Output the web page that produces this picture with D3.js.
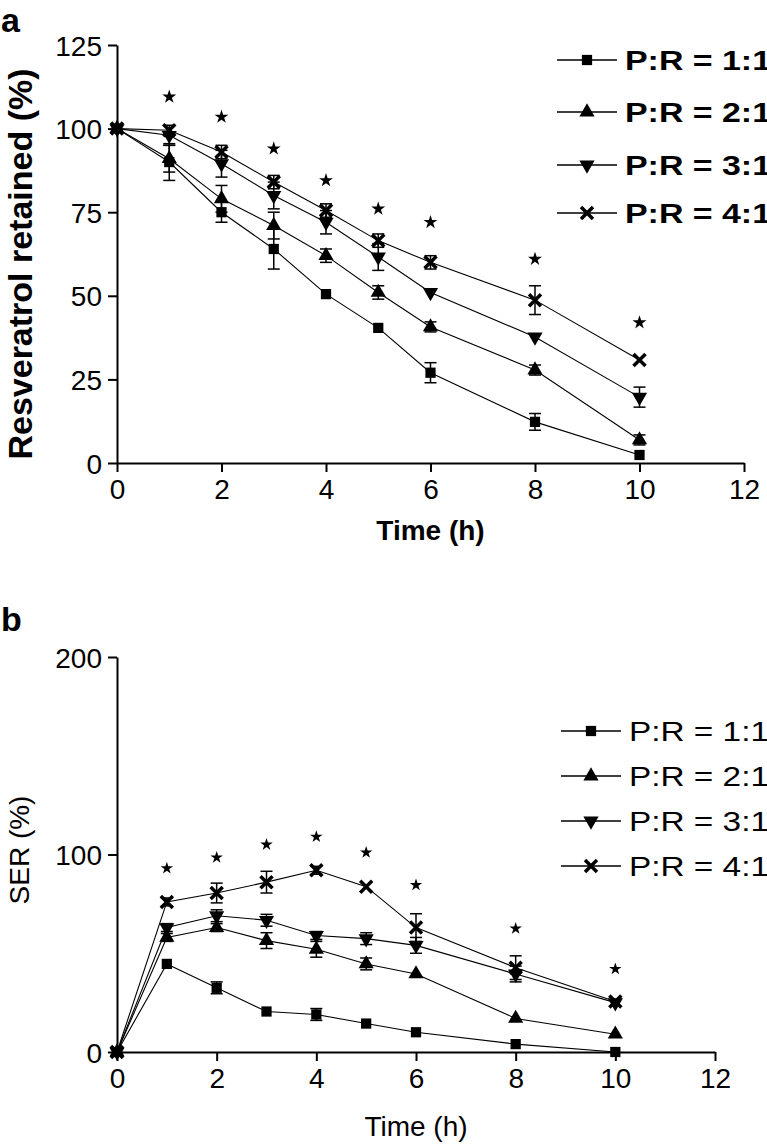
<!DOCTYPE html>
<html>
<head>
<meta charset="utf-8">
<script src="https://cdn.jsdelivr.net/npm/d3@7"></script>
<style>
  html, body { margin: 0; padding: 0; background: #fff; }
  svg { display: block; font-family: "Liberation Sans", Arial, sans-serif; }
</style>
</head>
<body>
<div id="chart"></div>
<script>
// sampling times (h)
const times = [0, 1, 2, 3, 4, 5, 6, 8, 10];
const seriesNames = ['P:R = 1:1', 'P:R = 2:1', 'P:R = 3:1', 'P:R = 4:1'];

// panel a: resveratrol retained (%)
const retained11 = [100, 90, 75, 64, 50.5, 40.4, 27, 12.3, 2.4];
const retained21 = [100, 91, 79, 71, 62, 51, 40.7, 27.8, 6.9];
const retained31 = [100, 98, 89.5, 80, 72, 61.6, 51, 37.7, 19.7];
const retained41 = [100, 99.5, 93, 84, 75.5, 66.5, 60, 48.7, 30.8];
const retainedErr11 = [1, 5.5, 3, 6, 1, 1, 3, 2.5, 1];
const retainedErr21 = [1, 4, 4, 4, 2, 2, 1.5, 1.5, 1.5];
const retainedErr31 = [1, 3, 4, 4, 3.5, 4, 1, 1, 3];
const retainedErr41 = [1, 1, 2, 2, 2, 2, 2, 4.3, 1];
const retainedStarTimes = [1, 2, 3, 4, 5, 6, 8, 10];
const retainedStars = [109.5, 103.5, 94, 84.5, 76, 72, 61, 42];
const retainedTicks = [0, 25, 50, 75, 100, 125];

// panel b: SER (%)
const ser11 = [0, 44.6, 32.5, 20.5, 19, 14.4, 10, 4, 0];
const ser21 = [0, 58, 63, 56.4, 52, 44.6, 39.5, 17, 9];
const ser31 = [0, 63, 69, 66.7, 59, 57.4, 54, 39.5, 25];
const ser41 = [0, 76, 80.5, 86, 92, 83.7, 63, 42.7, 25.6];
const serErr11 = [0, 1, 3, 1, 3, 1, 1, 1, 0];
const serErr21 = [0, 2, 2, 4, 4, 3, 1, 1, 1];
const serErr31 = [0, 2, 3, 3, 2, 3, 4, 4, 1];
const serErr41 = [0, 2, 5, 5.5, 2, 1, 7, 6, 1];
const serStarTimes = [1, 2, 3, 4, 5, 6, 8, 10];
const serStars = [93, 98.5, 105, 109, 101, 84.6, 62.5, 42];
const serTicks = [0, 100, 200];

const timeTicks = [0, 2, 4, 6, 8, 10, 12];

const width = 767, height = 1145;
const svg = d3.select('#chart').append('svg')
  .attr('width', width)
  .attr('height', height);

// marker shapes: square, triangle, inverted triangle, x
const xMark = { draw(ctx) { ctx.moveTo(-6, -6); ctx.lineTo(6, 6); ctx.moveTo(-6, 6); ctx.lineTo(6, -6); } };
const markers = [
  { type: d3.symbolSquare, size: 105, rotate: 0, stroke: false },
  { type: d3.symbolTriangle, size: 100, rotate: 0, stroke: false },
  { type: d3.symbolTriangle, size: 100, rotate: 180, stroke: false },
  { type: xMark, size: 64, rotate: 0, stroke: true }
];

function drawMarker(g, i, x, y) {
  const m = markers[i];
  const p = g.append('path')
    .attr('d', d3.symbol().type(m.type).size(m.size)())
    .attr('transform', `translate(${x},${y}) rotate(${m.rotate})`);
  if (m.stroke) {
    p.attr('fill', 'none').attr('stroke', '#000').attr('stroke-width', 3.5);
  } else {
    p.attr('fill', '#000');
  }
}

function drawPanel(opts) {
  const { x, y, series, errors, starTimes, stars, yTicks, bold } = opts;
  const weight = bold ? 'bold' : 'normal';
  const g = svg.append('g');

  // axes
  const yAxis = g.append('g')
    .attr('transform', `translate(${x.range()[0]},0)`)
    .call(d3.axisLeft(y).tickValues(yTicks).tickSize(9).tickSizeOuter(0).tickPadding(6));
  const xAxis = g.append('g')
    .attr('transform', `translate(0,${y.range()[0]})`)
    .call(d3.axisBottom(x).tickValues(timeTicks).tickSize(9).tickSizeOuter(0).tickPadding(7));

  [yAxis, xAxis].forEach(ax => {
    ax.select('.domain').attr('stroke', '#000').attr('stroke-width', 2);
    ax.selectAll('.tick line').attr('stroke', '#000').attr('stroke-width', 2);
    ax.selectAll('.tick text')
      .attr('fill', '#000')
      .style('font-family', '"Liberation Sans", Arial, sans-serif')
      .style('font-size', '28px');
  });
  yAxis.selectAll('.tick text').attr('dy', '0.36em');

  // lines
  const line = d3.line()
    .x((d, i) => x(times[i]))
    .y(d => y(d));

  series.forEach(s => {
    g.append('path')
      .datum(s)
      .attr('d', line)
      .attr('fill', 'none')
      .attr('stroke', '#000')
      .attr('stroke-width', 1.1);
  });

  // error bars
  series.forEach((s, k) => {
    s.forEach((v, i) => {
      const e = errors[k][i];
      if (e <= 1) return;
      const cx = x(times[i]);
      const y0 = y(v - e), y1 = y(v + e);
      g.append('line').attr('x1', cx).attr('x2', cx).attr('y1', y0).attr('y2', y1)
        .attr('stroke', '#000').attr('stroke-width', 1.5);
      [y0, y1].forEach(yy => {
        g.append('line').attr('x1', cx - 6).attr('x2', cx + 6).attr('y1', yy).attr('y2', yy)
          .attr('stroke', '#000').attr('stroke-width', 1.5);
      });
    });
  });

  // markers
  series.forEach((s, k) => {
    s.forEach((v, i) => drawMarker(g, k, x(times[i]), y(v)));
  });

  // significance stars
  stars.forEach((v, i) => {
    g.append('path')
      .attr('d', d3.symbol().type(d3.symbolStar).size(opts.starSize)())
      .attr('transform', `translate(${x(starTimes[i])},${y(v)})`)
      .attr('fill', '#000');
  });

  // legend
  opts.legendRows.forEach((ly, k) => {
    g.append('line')
      .attr('x1', opts.legendX).attr('x2', opts.legendX + 60)
      .attr('y1', ly).attr('y2', ly)
      .attr('stroke', '#000').attr('stroke-width', 1.5);
    drawMarker(g, k, opts.legendX + 30, ly);
    g.append('text')
      .attr('x', opts.legendX + 68)
      .attr('y', ly)
      .attr('dy', '0.36em')
      .attr('textLength', opts.legendTextLength)
      .attr('lengthAdjust', 'spacingAndGlyphs')
      .style('font-size', opts.legendFont + 'px')
      .style('font-weight', weight)
      .text(seriesNames[k]);
  });

  // axis titles
  g.append('text')
    .attr('x', (x.range()[0] + x.range()[1]) / 2)
    .attr('y', opts.xTitleY)
    .attr('text-anchor', 'middle')
    .style('font-size', '28px')
    .style('font-weight', weight)
    .text('Time (h)');

  g.append('text')
    .attr('transform', `translate(${opts.yTitleX},${opts.yTitleY}) rotate(-90)`)
    .attr('text-anchor', 'middle')
    .style('font-size', opts.yTitleFont + 'px')
    .style('font-weight', weight)
    .text(opts.yTitle);

  // panel letter
  g.append('text')
    .attr('x', 1)
    .attr('y', opts.letterY)
    .style('font-size', '34px')
    .style('font-weight', 'bold')
    .text(opts.letter);
}

drawPanel({
  x: d3.scaleLinear().domain([0, 12]).range([117, 744]),
  y: d3.scaleLinear().domain([0, 125]).range([463, 45]),
  series: [retained11, retained21, retained31, retained41],
  errors: [retainedErr11, retainedErr21, retainedErr31, retainedErr41],
  starTimes: retainedStarTimes,
  stars: retainedStars,
  starSize: 60,
  yTicks: retainedTicks,
  bold: true,
  legendX: 557,
  legendRows: [60, 112, 165, 213],
  legendFont: 27,
  legendTextLength: 146,
  xTitleY: 540,
  yTitleX: 32,
  yTitleY: 264,
  yTitleFont: 34,
  yTitle: 'Resveratrol retained (%)',
  letter: 'a',
  letterY: 32
});

drawPanel({
  x: d3.scaleLinear().domain([0, 12]).range([117, 715]),
  y: d3.scaleLinear().domain([0, 200]).range([1052, 657]),
  series: [ser11, ser21, ser31, ser41],
  errors: [serErr11, serErr21, serErr31, serErr41],
  starTimes: serStarTimes,
  stars: serStars,
  starSize: 48,
  yTicks: serTicks,
  bold: false,
  legendX: 561,
  legendRows: [731, 776, 821, 866],
  legendFont: 28,
  legendTextLength: 140,
  xTitleY: 1136,
  yTitleX: 29,
  yTitleY: 850,
  yTitleFont: 28,
  yTitle: 'SER (%)',
  letter: 'b',
  letterY: 631
});
</script>
</body>
</html>
